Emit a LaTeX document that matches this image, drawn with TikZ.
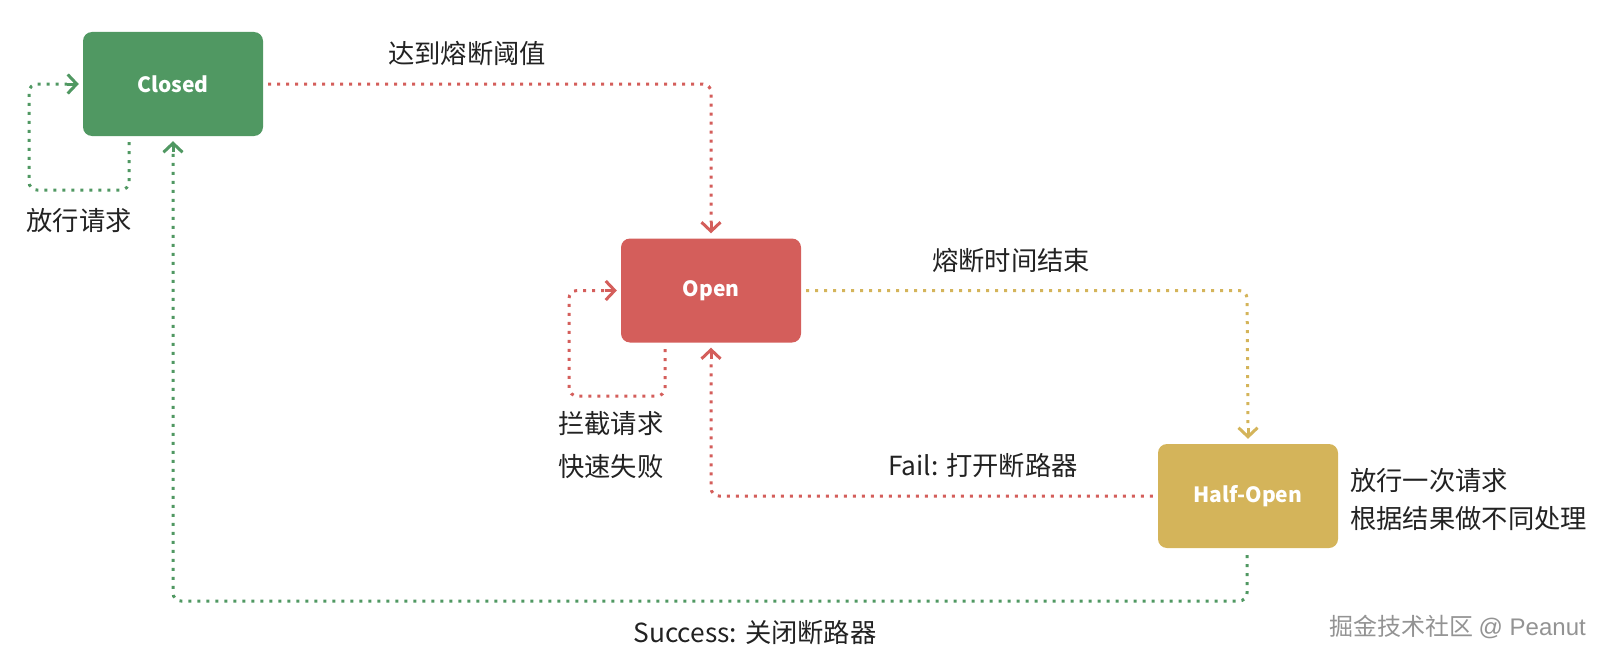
\documentclass[tikz,border=0pt]{standalone}
\usepackage{fontspec}
\setmainfont{Noto Sans CJK SC}
\newfontfamily\wmfont{Liberation Sans}
\usetikzlibrary{arrows.meta}
\definecolor{cgreen}{RGB}{80,152,98}
\definecolor{cred}{RGB}{212,94,91}
\definecolor{cgold}{RGB}{212,180,90}
\definecolor{ctext}{RGB}{34,34,34}
\tikzset{
  state/.style={rounded corners=9pt, minimum width=180pt, minimum height=104pt, inner sep=0pt,
    text=white, font=\fontsize{21}{24}\selectfont\bfseries},
  conn/.style={line width=3pt, dash pattern=on 3pt off 6pt, rounded corners=8pt},
  tipline/.style={line width=3pt, solid,
    -{Straight Barb[length=9pt,width=19pt,line width=3pt]}},
  lbl/.style={text=ctext, font=\fontsize{26.3}{40}\selectfont, inner sep=0pt, align=left},
}
\begin{document}
\begin{tikzpicture}[x=1pt,y=-1pt]
\useasboundingbox (0,0) rectangle (1605,661);
\node[state, fill=cgreen] (closed) at (173,84) {Closed};
\node[state, fill=cred] (open) at (711,290.5) {Open};
\node[state, fill=cgold] (half) at (1248,496) {Half-Open};

% bend start points
\coordinate (c1) at (129,142);
\coordinate (c2) at (665,349);
\coordinate (c3) at (1247,555);
% starts of the solid arrow-tip segments (yshift is in page direction: + is up)
\coordinate (t1) at ([xshift=-16pt]closed.west);
\coordinate (t2) at ([yshift=16pt]open.north);
\coordinate (t3) at ([xshift=-16pt]open.west);
\coordinate (t4) at ([yshift=16pt]half.north);
\coordinate (t5) at ([yshift=-16pt]open.south);
\coordinate (t6) at ([yshift=-16pt]closed.south);

% Closed self loop
\draw[conn, cgreen] (c1) -- (129,190) -- (29,190) -- (29,84) -- (t1);
\draw[tipline, cgreen] (t1) -- ([xshift=-4pt]closed.west);
% Closed -> Open
\draw[conn, cred] ([xshift=5pt]closed.east) -- (711,84) -- (t2);
\draw[tipline, cred] (t2) -- ([yshift=5pt]open.north);
% Open self loop
\draw[conn, cred] (c2) -- (665,396) -- (569,396) -- (569,290.5) -- (t3);
\draw[tipline, cred] (t3) -- ([xshift=-4pt]open.west);
% Open -> Half-Open
\draw[conn, cgold] ([xshift=5pt]open.east) -- (1247,290.5) -- (t4);
\draw[tipline, cgold] (t4) -- ([yshift=5pt]half.north);
% Half-Open -> Open
\draw[conn, cred] ([xshift=-5pt]half.west) -- (711,496) -- (t5);
\draw[tipline, cred] (t5) -- ([yshift=-5pt]open.south);
% Half-Open -> Closed
\draw[conn, cgreen] (c3) -- (1247,601) -- (173,601) -- (t6);
\draw[tipline, cgreen] (t6) -- ([yshift=-5pt]closed.south);

\node[lbl] (l1) at (79,221) {放行请求};
\node[lbl] (l2) at (467,53) {达到熔断阈值};
\node[lbl, anchor=west, font=\fontsize{26.3}{43}\selectfont] (l3) at (558,445) {拦截请求\\快速失败};
\node[lbl] (l4) at (1011,260) {熔断时间结束};
\node[lbl] (l5) at (983,466) {Fail: 打开断路器};
\node[lbl, anchor=west, font=\fontsize{26.3}{38}\selectfont] (l6) at (1350,499) {放行一次请求\\根据结果做不同处理};
\node[lbl] (l7) at (755,633) {Success: 关闭断路器};
\node[text=gray!85, font=\fontsize{24}{26}\selectfont, inner sep=0pt, anchor=east] (wm) at (1586,627) {掘金技术社区 {\wmfont @ Peanut}};
\end{tikzpicture}
\end{document}
